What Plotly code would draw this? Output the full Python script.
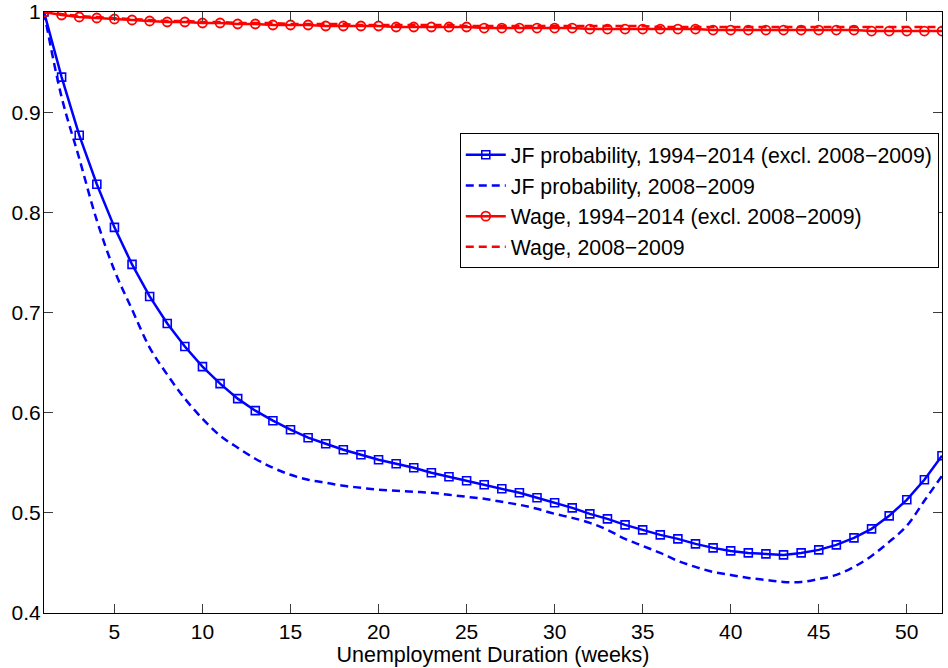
import plotly.graph_objects as go

# Unemployment duration in weeks
weeks = list(range(1, 53))

# Job-finding probability, 1994-2014 excluding the 2008-2009 recession
jf_normal = [1.000, 0.935, 0.877, 0.828, 0.785, 0.748, 0.716, 0.689, 0.666, 0.646,
             0.629, 0.614, 0.602, 0.592, 0.583, 0.575, 0.569, 0.563, 0.558, 0.553,
             0.549, 0.545, 0.540, 0.536, 0.532, 0.528, 0.524, 0.520, 0.515, 0.510,
             0.505, 0.499, 0.494, 0.488, 0.483, 0.478, 0.474, 0.469, 0.465, 0.462,
             0.460, 0.459, 0.458, 0.460, 0.463, 0.468, 0.475, 0.484, 0.497, 0.513,
             0.533, 0.557]

# Job-finding probability, 2008-2009
jf_recession = [1.000, 0.915, 0.854, 0.792, 0.742, 0.703, 0.665, 0.638, 0.614, 0.594,
                0.577, 0.565, 0.554, 0.545, 0.538, 0.533, 0.530, 0.527, 0.525, 0.523,
                0.522, 0.521, 0.520, 0.518, 0.516, 0.514, 0.511, 0.508, 0.504, 0.499,
                0.495, 0.490, 0.483, 0.474, 0.467, 0.460, 0.452, 0.446, 0.441, 0.438,
                0.435, 0.433, 0.431, 0.431, 0.434, 0.438, 0.446, 0.457, 0.471, 0.487,
                0.512, 0.537]

# Relative wage, 1994-2014 excluding 2008-2009
wage_normal = [1.000, 0.997, 0.995, 0.994, 0.993, 0.992, 0.991, 0.990, 0.990, 0.989,
               0.989, 0.988, 0.988, 0.987, 0.987, 0.987, 0.986, 0.986, 0.986, 0.986,
               0.985, 0.985, 0.985, 0.985, 0.985, 0.984, 0.984, 0.984, 0.984, 0.984,
               0.984, 0.983, 0.983, 0.983, 0.983, 0.983, 0.983, 0.983, 0.982, 0.982,
               0.982, 0.982, 0.982, 0.982, 0.982, 0.982, 0.982, 0.981, 0.981, 0.981,
               0.981, 0.981]

# Relative wage, 2008-2009
wage_recession = [1.000, 0.998, 0.996, 0.995, 0.994, 0.993, 0.992, 0.991, 0.991, 0.990,
                  0.990, 0.989, 0.989, 0.989, 0.988, 0.988, 0.988, 0.988, 0.987, 0.987,
                  0.987, 0.987, 0.987, 0.987, 0.986, 0.986, 0.986, 0.986, 0.986, 0.986,
                  0.986, 0.986, 0.986, 0.986, 0.986, 0.985, 0.985, 0.985, 0.985, 0.985,
                  0.985, 0.985, 0.985, 0.985, 0.985, 0.985, 0.985, 0.985, 0.985, 0.985,
                  0.985, 0.985]

x_ticks = [5, 10, 15, 20, 25, 30, 35, 40, 45, 50]
y_ticks = [0.4, 0.5, 0.6, 0.7, 0.8, 0.9, 1.0]
y_tick_text = ["0.4", "0.5", "0.6", "0.7", "0.8", "0.9", "1"]

BLUE = "rgb(0,0,255)"
RED = "rgb(255,0,0)"
M = "\u2212"
FONT = "Liberation Sans, Arial, Helvetica, sans-serif"

fig = go.Figure()
fig.add_trace(go.Scatter(
    x=weeks, y=jf_normal, mode="lines+markers",
    name=f"JF probability, 1994{M}2014 (excl. 2008{M}2009)",
    line=dict(color=BLUE, width=2.5),
    marker=dict(symbol="square-open", size=8, color=BLUE, line=dict(width=1.6)),
))
fig.add_trace(go.Scatter(
    x=weeks, y=jf_recession, mode="lines",
    name=f"JF probability, 2008{M}2009",
    line=dict(color=BLUE, width=2.5, dash="8px,5px", shape="spline"),
))
fig.add_trace(go.Scatter(
    x=weeks, y=wage_normal, mode="lines+markers",
    name=f"Wage, 1994{M}2014 (excl. 2008{M}2009)",
    line=dict(color=RED, width=2.5),
    marker=dict(symbol="circle-open", size=9, color=RED, line=dict(width=1.8)),
))
fig.add_trace(go.Scatter(
    x=weeks, y=wage_recession, mode="lines",
    name=f"Wage, 2008{M}2009",
    line=dict(color=RED, width=2.5, dash="8px,5px"),
))

axis_common = dict(
    showline=True, linecolor="black", linewidth=1, mirror="ticks",
    ticks="inside", ticklen=9, tickwidth=1, tickcolor="rgb(60,60,60)",
    showgrid=False, zeroline=False, automargin=False,
    tickfont=dict(family=FONT, size=21, color="black"),
)

fig.update_layout(
    width=948, height=668,
    margin=dict(l=44, r=6, t=12, b=55),
    paper_bgcolor="white", plot_bgcolor="white",
    font=dict(family=FONT, size=21, color="black"),
    xaxis=dict(range=[1, 52], tickvals=x_ticks,
               title=dict(text="Unemployment Duration (weeks)",
                          font=dict(family=FONT, size=21.5), standoff=0),
               **axis_common),
    yaxis=dict(range=[0.4, 1.0], tickvals=y_ticks, ticktext=y_tick_text,
               ticklabelstandoff=-2, **axis_common),
    legend=dict(x=0.463, y=0.798, xanchor="left", yanchor="top",
                bgcolor="white", bordercolor="black", borderwidth=1,
                font=dict(family=FONT, size=21.3, color="black"),
                itemwidth=40, tracegroupgap=0),
    showlegend=True,
)

fig.write_html("out.html")
